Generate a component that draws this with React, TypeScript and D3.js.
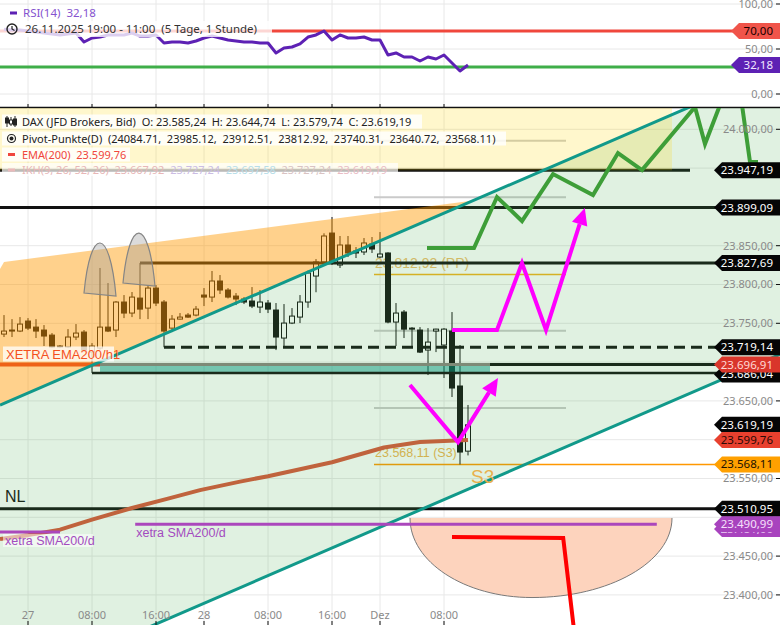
import React from 'react';
import * as d3 from 'd3';

const W = 780;
const H = 625;

// ---------- data ----------
const candleOpen = [23736.1, 23741.3, 23740.0, 23752.9, 23745.1, 23741.3, 23734.8, 23720.7, 23719.4, 23732.3, 23738.7, 23712.9, 23718.1, 23745.1, 23741.3, 23777.4, 23763.2, 23782.5, 23769.6, 23795.4, 23777.4, 23743.8, 23755.4, 23760.6, 23760.6, 23786.4, 23783.8, 23804.5, 23792.9, 23785.1, 23781.3, 23778.7, 23770.9, 23776.1, 23767.1, 23731.0, 23750.3, 23758.0, 23777.4, 23810.9, 23829.0, 23866.3, 23825.1, 23850.9, 23843.2, 23841.9, 23852.2, 23835.4, 23840.6, 23751.6, 23764.5, 23743.8, 23741.3, 23715.5, 23740.0, 23722.0, 23740.0, 23669.2, 23585.24];
const candleHigh = [23760.6, 23755.4, 23758.0, 23756.7, 23755.4, 23747.7, 23737.4, 23722.0, 23742.5, 23749.0, 23741.3, 23724.5, 23821.3, 23801.9, 23778.7, 23786.4, 23790.3, 23827.69, 23799.3, 23799.3, 23780.0, 23760.6, 23763.2, 23763.2, 23772.2, 23795.4, 23817.4, 23812.2, 23795.4, 23789.0, 23783.8, 23796.7, 23792.9, 23780.0, 23776.1, 23774.8, 23769.6, 23786.4, 23818.0, 23832.8, 23866.0, 23887.0, 23862.5, 23862.5, 23848.3, 23859.9, 23861.2, 23867.6, 23841.5, 23776.1, 23767.1, 23745.1, 23745.1, 23743.8, 23743.0, 23743.8, 23764.5, 23722.0, 23644.74];
const candleLow = [23732.3, 23732.3, 23738.7, 23741.3, 23731.0, 23720.7, 23718.1, 23718.1, 23718.1, 23728.4, 23712.9, 23686.04, 23716.0, 23738.7, 23732.3, 23756.7, 23758.0, 23755.4, 23755.4, 23772.2, 23719.14, 23738.7, 23755.0, 23757.0, 23759.0, 23772.2, 23777.4, 23787.7, 23782.0, 23773.5, 23774.8, 23769.6, 23763.2, 23763.2, 23715.5, 23719.4, 23749.0, 23750.3, 23770.0, 23790.0, 23826.0, 23825.1, 23821.3, 23835.4, 23834.1, 23838.0, 23840.6, 23834.1, 23750.0, 23720.7, 23731.0, 23719.4, 23711.7, 23683.3, 23712.9, 23679.5, 23655.0, 23568.11, 23579.74];
const candleClose = [23740.0, 23740.0, 23749.0, 23743.8, 23740.0, 23733.6, 23719.4, 23719.4, 23732.3, 23737.4, 23715.5, 23720.7, 23745.1, 23740.0, 23777.4, 23763.2, 23783.8, 23768.3, 23795.4, 23776.1, 23740.0, 23755.4, 23758.0, 23758.0, 23768.3, 23783.8, 23804.5, 23792.9, 23783.8, 23781.3, 23777.4, 23772.2, 23777.4, 23768.3, 23732.3, 23750.3, 23759.3, 23777.4, 23814.8, 23829.0, 23862.5, 23827.7, 23850.9, 23840.6, 23840.6, 23853.5, 23845.7, 23839.3, 23751.6, 23763.2, 23742.5, 23743.0, 23712.9, 23725.8, 23742.5, 23742.5, 23666.6, 23584.1, 23619.19];

const rsiValues = [72, 71, 71, 70, 69, 67.8, 66.7, 65.6, 66.7, 67.8, 57.8, 62.2, 63.3, 65.6, 65.6, 65.6, 67.8, 64.4, 64.4, 65.6, 56.7, 57.8, 57.8, 56.7, 58.9, 62.2, 64.4, 62.2, 60, 58.9, 57.8, 57.8, 56.7, 56.7, 45.6, 51.1, 52.2, 55.6, 63.3, 65.6, 70, 60, 65.6, 62.2, 62.2, 63.3, 60, 60, 43.3, 45.6, 41.1, 41.1, 36.7, 41.1, 38.9, 43.3, 34.4, 25.6, 32.18];

const xTickIndex = [3, 11, 19, 25, 33, 41, 47, 55];
const xTickLabels = ['27', '08:00', '16:00', '28', '08:00', '16:00', 'Dez', '08:00'];

const priceTicks = [24000, 23950, 23900, 23850, 23800, 23750, 23700, 23650, 23600, 23550, 23500, 23450, 23400];
const rsiTicks = [100, 50, 0];
const rsiUpper = 70;
const rsiLower = 30;

const emaIndex = [-0.5, 3, 7, 11, 16, 20.5, 24.5, 29.5, 33, 41, 47.5, 52, 58];
const emaValue = [23472, 23477, 23484, 23497, 23512, 23524, 23535, 23546, 23553, 23571, 23590, 23597, 23599.76];

const pivotNames = ['R3', 'R2', 'R1', 'PP', 'S1', 'S2', 'S3'];
const pivotValues = [24084.71, 23985.12, 23912.51, 23812.92, 23740.31, 23640.72, 23568.11];

const levelTop = 23947.19;
const level1 = 23899.09;
const level2 = 23827.69;
const levelDash = 23719.14;
const levelEmaH1 = 23696.91;
const levelZoneLow = 23686.04;
const levelNL = 23510.95;
const smaD1 = 23490.99;
const smaD2 = 23481.0;

const channelIdx = [-0.5, 97];
const channelUpperVal = [23644.7, 24079.0];
const channelLowerVal = [23275.6, 23709.9];

const wedgeIdx = [-0.5, 0, 58.7, -0.5];
const wedgeVal = [23820, 23829, 23908.4, 23644.7];

const archIdx = [[10, 12, 14], [14.875, 16.875, 18.875]];
const archVal = [[23789.0, 23853.5, 23785.1], [23801.9, 23866.3, 23798.0]];

const greenIdx = [52.875, 58.75, 61.625, 64.75, 68.625, 73.625, 76.75, 79.75, 86.375, 87.625, 89.5, 90.875, 92.25, 93.25, 94.25];
const greenVal = [23847.0, 23847.0, 23912.7, 23881.8, 23942.3, 23915.3, 23969.4, 23947.5, 24028.7, 23981.0, 24031.3, 24063.5, 24031.3, 23957.9, 23957.9];

const magentaUpIdx = [56, 61.625, 64.75, 67.75, 72.6];
const magentaUpVal = [23741.4, 23741.4, 23827.7, 23741.4, 23898.6];
const magentaVIdx = [50.75, 56.75, 61.75];
const magentaVVal = [23670.5, 23597.0, 23679.5];

const redIdx = [56, 69.9, 71.4];
const redVal = [23474.6, 23473.3, 23342];

// bowl: left edge, bottom, right edge (index) and top / bottom price
const bowlIdx = [50.75, 66, 83.5];
const bowlVal = [23499.1, 23396.6];

const ohlcLast = { o: 23585.24, h: 23644.74, l: 23579.74, c: 23619.19 };
const emaLast = 23599.76;
const rsiLast = 32.18;
const ikhValues = ['23.667,92', '23.727,24', '23.697,58', '23.727,24', '23.619,19'];

// ---------- helpers ----------
const de = d3.formatLocale({ decimal: ',', thousands: '.', grouping: [3], currency: ['', ''] });
const fmt = de.format(',.2f');

function arrowHead(p0: [number, number], p1: [number, number], len = 17, half = 8) {
  const dx = p1[0] - p0[0];
  const dy = p1[1] - p0[1];
  const L = Math.hypot(dx, dy);
  const ux = dx / L;
  const uy = dy / L;
  const bx = p1[0] - ux * len;
  const by = p1[1] - uy * len;
  return {
    base: [bx, by] as [number, number],
    path: `M${p1[0]},${p1[1]}L${bx - uy * half},${by + ux * half}L${bx + uy * half},${by - ux * half}Z`,
  };
}

function labelPath(tipX: number, cy: number, h: number) {
  return `M${tipX},${cy}L${tipX + 8},${cy - h / 2}L${W},${cy - h / 2}L${W},${cy + h / 2}L${tipX + 8},${cy + h / 2}Z`;
}

const SANS = '"Noto Sans", "DejaVu Sans", sans-serif';
const ARIAL = '"Liberation Sans", Arial, sans-serif';

export default function App() {
  const x = d3.scaleLinear().domain([0, 58]).range([4, 468]);
  const y = d3.scaleLinear().domain([23400, 24000]).range([594.9, 129.3]);
  const yR = d3.scaleLinear().domain([0, 100]).range([94, 4]);

  const pline = d3.line<[number, number]>().x((d) => x(d[0])).y((d) => y(d[1]));
  const pxLine = d3.line<[number, number]>();
  const rsiLine = d3.line<number>().x((_, i) => x(i)).y((d) => yR(d));

  const upper = channelIdx.map((v, i) => [x(v), y(channelUpperVal[i])] as [number, number]);
  const lower = channelIdx.map((v, i) => [x(v), y(channelLowerVal[i])] as [number, number]);
  const channelPath = `M${upper[0][0]},${upper[0][1]}L${upper[1][0]},${upper[1][1]}L${lower[1][0]},${lower[1][1]}L${lower[0][0]},${lower[0][1]}Z`;

  const wedge = wedgeIdx.map((v, i) => [v, wedgeVal[i]] as [number, number]);
  const ema = emaIndex.map((v, i) => [v, emaValue[i]] as [number, number]);
  const green = greenIdx.map((v, i) => [v, greenVal[i]] as [number, number]);

  const magUpPx = magentaUpIdx.map((v, i) => [x(v), y(magentaUpVal[i])] as [number, number]);
  const magUpHead = arrowHead(magUpPx[magUpPx.length - 2], magUpPx[magUpPx.length - 1]);
  const magUpLine = [...magUpPx.slice(0, -1), magUpHead.base];
  const magVPx = magentaVIdx.map((v, i) => [x(v), y(magentaVVal[i])] as [number, number]);
  const magVHead = arrowHead(magVPx[magVPx.length - 2], magVPx[magVPx.length - 1]);
  const magVLine = [...magVPx.slice(0, -1), magVHead.base];

  const red = redIdx.map((v, i) => [v, redVal[i]] as [number, number]);

  const bxL = x(bowlIdx[0]);
  const bxM = x(bowlIdx[1]);
  const bxR = x(bowlIdx[2]);
  const byT = y(bowlVal[0]);
  const byB = y(bowlVal[1]);
  const kk = 0.5523;
  const ry = byB - byT;
  const bowlEdge = `M${bxL},${byT}C${bxL},${byT + kk * ry} ${bxM - kk * (bxM - bxL)},${byB} ${bxM},${byB}C${bxM + kk * (bxR - bxM)},${byB} ${bxR},${byT + kk * ry} ${bxR},${byT}`;
  const bowlFill = bowlEdge + 'Z';

  const arches = archIdx.map((ids, k) => {
    const [xl, , xr] = ids.map((v) => x(v));
    const [yl, ya, yr] = archVal[k].map((v) => y(v));
    const w = xr - xl;
    const yb = (yl + yr) / 2;
    const yc = (ya - 0.25 * yb) / 0.75;
    return `M${xl},${yl}C${xl + w * 0.2},${yc} ${xr - w * 0.2},${yc} ${xr},${yr}Z`;
  });

  const pivotStart = 46.25;
  const pivotEnd = 70.25;

  const priceLabels = [
    { v: levelTop, bg: '#050505', fg: '#ffffff', dy: 0 },
    { v: level1, bg: '#050505', fg: '#ffffff', dy: 0 },
    { v: level2, bg: '#050505', fg: '#ffffff', dy: 0 },
    { v: levelDash, bg: '#050505', fg: '#ffffff', dy: 0 },
    { v: levelZoneLow, bg: '#050505', fg: '#ffffff', dy: 1.5 },
    { v: levelEmaH1, bg: '#d9362b', fg: '#ffd9d4', dy: 0 },
    { v: ohlcLast.c, bg: '#050505', fg: '#ffffff', dy: 0 },
    { v: emaLast, bg: '#e8402e', fg: '#2b0905', dy: 0 },
    { v: pivotValues[6], bg: '#ffa000', fg: '#1c1200', dy: 0 },
    { v: levelNL, bg: '#050505', fg: '#ffffff', dy: 0 },
    { v: smaD2, bg: '#a843be', fg: '#f6e0fb', dy: -3 },
    { v: smaD1, bg: '#a843be', fg: '#f6e0fb', dy: 0 },
  ];

  const candles = candleOpen.map((o, i) => ({ i, o, h: candleHigh[i], l: candleLow[i], c: candleClose[i] }));

  return (
    <svg width={W} height={H} style={{ position: 'absolute', left: 0, top: 0, background: '#fff' }} fontFamily={SANS}>
      <defs>
        <clipPath id="rsiClip"><rect x={0} y={0} width={W} height={107} /></clipPath>
        <clipPath id="mainClip"><rect x={0} y={108} width={W} height={H - 108} /></clipPath>
      </defs>

      {/* ---------- RSI panel ---------- */}
      <g clipPath="url(#rsiClip)">
        {rsiTicks.map((t) => (
          <line key={t} x1={0} x2={W} y1={yR(t)} y2={yR(t)} stroke="#e8e8e8" strokeWidth={1} />
        ))}
        {xTickIndex.map((t, k) => (
          <line key={k} x1={x(t)} x2={x(t)} y1={0} y2={107} stroke="#e8e8e8" strokeWidth={1} />
        ))}
        <line x1={0} x2={W} y1={yR(rsiUpper)} y2={yR(rsiUpper)} stroke="#f0473c" strokeWidth={3} />
        <line x1={0} x2={W} y1={yR(rsiLower)} y2={yR(rsiLower)} stroke="#3fae49" strokeWidth={3} />
        <path d={rsiLine(rsiValues) || ''} fill="none" stroke="#5d21b4" strokeWidth={3} strokeLinejoin="round" />
        <rect x={0} y={21} width={272} height={16} fill="#ffffff" fillOpacity={0.78} />
        <rect x={10} y={11.5} width={7} height={3} fill="#5d21b4" />
        <text x={23} y={17} fontSize={11.5} fill="#8553cf" style={{ whiteSpace: 'pre' }}>{`RSI(14)  ${rsiLast.toFixed(2).replace('.', ',')}`}</text>
        <circle cx={12} cy={29} r={5} fill="none" stroke="#222" strokeWidth={1.4} />
        <path d="M12,26 L12,29 L14.5,30.5" fill="none" stroke="#222" strokeWidth={1.2} />
        <text x={25} y={33} fontSize={11.5} fill="#333" style={{ whiteSpace: 'pre' }}>{'26.11.2025 19:00 - 11:00  (5 Tage, 1 Stunde)'}</text>
      </g>

      <line x1={0} x2={W} y1={107.5} y2={107.5} stroke="#111" strokeWidth={1.5} />
      {xTickIndex.map((t, k) => (
        <line key={k} x1={x(t)} x2={x(t)} y1={104} y2={107} stroke="#111" strokeWidth={1} />
      ))}

      {/* ---------- main panel ---------- */}
      <g clipPath="url(#mainClip)">
        {priceTicks.map((t) => (
          <line key={t} x1={0} x2={W} y1={y(t)} y2={y(t)} stroke="#e8e8e8" strokeWidth={1} />
        ))}
        {xTickIndex.map((t, k) => (
          <line key={k} x1={x(t)} x2={x(t)} y1={108} y2={H} stroke="#e8e8e8" strokeWidth={1} />
        ))}

        {pivotValues.map((v, k) => {
          const name = pivotNames[k];
          if (name === 'S3') {
            return <line key={name} x1={x(pivotStart)} x2={W} y1={y(v)} y2={y(v)} stroke="#ff9800" strokeWidth={1.5} />;
          }
          if (name === 'PP') {
            return <line key={name} x1={x(pivotStart)} x2={x(pivotEnd)} y1={y(v)} y2={y(v)} stroke="#f2b31c" strokeWidth={1.5} />;
          }
          return <line key={name} x1={x(pivotStart)} x2={x(pivotEnd)} y1={y(v)} y2={y(v)} stroke="#cacaca" strokeWidth={2} />;
        })}
        <text x={x(pivotStart) + 1} y={y(pivotValues[3]) - 6} fontFamily={ARIAL} fontSize={14} fill="#eebd6c">{`${fmt(pivotValues[3])} (PP)`}</text>
        <text x={x(pivotStart) + 1} y={y(pivotValues[6]) - 7} fontFamily={ARIAL} fontSize={12.5} fill="#eeb452">{`${fmt(pivotValues[6])} (S3)`}</text>

        {candles.map((d) => {
          const up = d.c >= d.o;
          const cx = x(d.i);
          const top = y(Math.max(d.o, d.c));
          const bot = y(Math.min(d.o, d.c));
          return (
            <g key={d.i}>
              <line x1={cx} x2={cx} y1={y(d.h)} y2={y(d.l)} stroke="#111" strokeWidth={1} />
              <rect x={cx - 2.5} y={top} width={5} height={Math.max(1, bot - top)} fill={up ? '#fff' : '#111'} stroke="#111" strokeWidth={1} />
            </g>
          );
        })}

        <line x1={0} x2={x(85.75)} y1={y(levelTop)} y2={y(levelTop)} stroke="#111" strokeWidth={3} />
        <line x1={0} x2={W} y1={y(level1)} y2={y(level1)} stroke="#111" strokeWidth={3} />
        <line x1={x(17)} x2={W} y1={y(level2)} y2={y(level2)} stroke="#111" strokeWidth={3} />
        <line x1={x(20)} x2={W} y1={y(levelDash)} y2={y(levelDash)} stroke="#111" strokeWidth={3} strokeDasharray="11,6" />
        <rect x={x(12)} y={y(levelEmaH1)} width={x(60.75) - x(12)} height={y(levelZoneLow) - y(levelEmaH1)} fill="#009688" fillOpacity={0.5} />
        <line x1={x(11)} x2={W} y1={y(levelZoneLow)} y2={y(levelZoneLow)} stroke="#111" strokeWidth={2.5} />
        <line x1={x(12)} x2={x(60.75)} y1={y(levelEmaH1)} y2={y(levelEmaH1)} stroke="#8a8480" strokeWidth={3} />
        <line x1={x(60.75)} x2={W} y1={y(levelEmaH1)} y2={y(levelEmaH1)} stroke="#111" strokeWidth={3} />
        <line x1={0} x2={x(12)} y1={y(levelEmaH1)} y2={y(levelEmaH1)} stroke="#e0352b" strokeWidth={4} />
        <line x1={0} x2={W} y1={y(levelNL)} y2={y(levelNL)} stroke="#111" strokeWidth={3} />

        <path d={pline(ema) || ''} fill="none" stroke="#d9553a" strokeWidth={4} strokeLinejoin="round" />

        <path d={pline(wedge) + 'Z'} fill="#ff9800" fillOpacity={0.45} />
        <path d={channelPath} fill="#46aa4b" fillOpacity={0.17} />
        <rect x={0} y={108} width={x(83.5)} height={y(levelTop) - 108} fill="#ffd700" fillOpacity={0.2} />

        {arches.map((d, k) => (
          <path key={k} d={d} fill="#a0a0a0" fillOpacity={0.38} stroke="#858585" strokeWidth={1.2} />
        ))}

        <path d={pxLine(upper) || ''} stroke="#11998a" strokeWidth={3} fill="none" />
        <path d={pxLine(lower) || ''} stroke="#11998a" strokeWidth={3} fill="none" />

        <path d={bowlFill} fill="#fdd3bd" />
        <path d={bowlEdge} fill="none" stroke="#7a7a7a" strokeWidth={1} />

        <line x1={x(16.4)} x2={x(81.6)} y1={y(smaD1)} y2={y(smaD1)} stroke="#ab47bc" strokeWidth={3} />
        <line x1={0} x2={x(7)} y1={y(smaD2)} y2={y(smaD2)} stroke="#ab47bc" strokeWidth={3} />

        <path d={pline(green) || ''} fill="none" stroke="#3e9e38" strokeWidth={4} strokeLinejoin="miter" />
        <path d={pxLine(magUpLine) || ''} fill="none" stroke="#ff00ff" strokeWidth={4} />
        <path d={magUpHead.path} fill="#ff00ff" />
        <path d={pxLine(magVLine) || ''} fill="none" stroke="#ff00ff" strokeWidth={4} />
        <path d={magVHead.path} fill="#ff00ff" />
        <path d={pline(red) || ''} fill="none" stroke="#ff0000" strokeWidth={4} />

        <rect x={3} y={y(levelEmaH1) - 18} width={111} height={15} fill="#ffffff" fillOpacity={0.75} />
        <text x={6} y={y(levelEmaH1) - 5.5} fontFamily={ARIAL} fontSize={13} fill="#f4511e">XETRA EMA200/h1</text>
        <text x={5} y={y(levelNL) - 7} fontFamily={ARIAL} fontSize={16} fill="#1b2b1b">NL</text>
        <text x={x(16.4) + 1} y={y(smaD1) + 13} fontFamily={ARIAL} fontSize={12.5} fill="#a34bbf">xetra SMA200/d</text>
        <rect x={3} y={y(smaD2) + 2} width={90} height={13} fill="#ffffff" fillOpacity={0.55} />
        <text x={5} y={y(smaD2) + 12.5} fontFamily={ARIAL} fontSize={12.5} fill="#a34bbf">xetra SMA200/d</text>
        <text x={471} y={y(pivotValues[6]) + 19} fontFamily={ARIAL} fontSize={19} fill="#e9b04c">S3</text>

        <rect x={2} y={114.5} width={420} height={14} fill="#ffffff" fillOpacity={0.82} />
        <rect x={2} y={131.5} width={504} height={14} fill="#ffffff" fillOpacity={0.82} />
        <rect x={2} y={147.5} width={128} height={14} fill="#ffffff" fillOpacity={0.82} />
        <rect x={2} y={163} width={396} height={13} fill="#ffffff" fillOpacity={0.7} />
        <g stroke="#222" strokeWidth={1}>
          <line x1={7} x2={7} y1={116} y2={127} />
          <rect x={5.5} y={118} width={3} height={5} fill="#222" />
          <line x1={11} x2={11} y1={117} y2={126} />
          <rect x={9.5} y={120} width={3} height={4} fill="#fff" />
          <line x1={15} x2={15} y1={116} y2={127} />
          <rect x={13.5} y={119} width={3} height={6} fill="#222" />
        </g>
        <text x={22} y={125.5} fontSize={11} fill="#222" style={{ whiteSpace: 'pre' }}>
          {`DAX (JFD Brokers, Bid)  O: ${fmt(ohlcLast.o)}  H: ${fmt(ohlcLast.h)}  L: ${fmt(ohlcLast.l)}  C: ${fmt(ohlcLast.c)}`}
        </text>
        <circle cx={11.5} cy={138.5} r={4} fill="none" stroke="#222" strokeWidth={1.2} />
        <circle cx={11.5} cy={138.5} r={2} fill="#222" />
        <text x={22} y={142.5} fontSize={11} fill="#222" style={{ whiteSpace: 'pre' }}>
          {`Pivot-Punkte(D)  (${pivotValues.map((v) => v.toFixed(2)).join(',  ')})`}
        </text>
        <rect x={8} y={153} width={7} height={3} fill="#f0463c" />
        <text x={22} y={158.5} fontSize={11} fill="#f0463c" style={{ whiteSpace: 'pre' }}>{`EMA(200)  ${fmt(emaLast)}`}</text>
        <rect x={8} y={168.5} width={7} height={3} fill="#e9b9b9" />
        <text x={22} y={174} fontSize={11} style={{ whiteSpace: 'pre' }}>
          <tspan fill="#e7b7b7">{`IKH(9, 26, 52, 26)  ${ikhValues[0]}  `}</tspan>
          <tspan fill="#cbbde3">{`${ikhValues[1]}  `}</tspan>
          <tspan fill="#b7dde8">{`${ikhValues[2]}  `}</tspan>
          <tspan fill="#d9c3c3">{`${ikhValues[3]}  `}</tspan>
          <tspan fill="#e9bcc4">{ikhValues[4]}</tspan>
        </text>
      </g>

      {/* ---------- axes ---------- */}
      {priceTicks.map((t) => (
        <g key={t}>
          <text x={773} y={y(t)} dy="0.35em" textAnchor="end" fontSize={11} fill="#8a8a8a">{fmt(t)}</text>
          <line x1={776} x2={W} y1={y(t)} y2={y(t)} stroke="#111" strokeWidth={1} />
        </g>
      ))}
      {rsiTicks.map((t) => (
        <g key={t}>
          <text x={773} y={yR(t)} dy="0.35em" textAnchor="end" fontSize={11} fill="#8a8a8a">{fmt(t)}</text>
          <line x1={776} x2={W} y1={yR(t)} y2={yR(t)} stroke="#111" strokeWidth={1} />
        </g>
      ))}
      {xTickIndex.map((t, k) => (
        <g key={k}>
          <text x={x(t)} y={619} textAnchor="middle" fontSize={11} fill="#8a8a8a">{xTickLabels[k]}</text>
          <line x1={x(t)} x2={x(t)} y1={621} y2={H} stroke="#111" strokeWidth={1} />
        </g>
      ))}

      <path d={labelPath(731, yR(rsiUpper), 16)} fill="#f0544a" />
      <text x={773} y={yR(rsiUpper)} dy="0.35em" textAnchor="end" fontSize={11.5} fill="#1a0000">{fmt(rsiUpper)}</text>
      <path d={labelPath(731, yR(rsiLast), 16)} fill="#5d21b4" />
      <text x={773} y={yR(rsiLast)} dy="0.35em" textAnchor="end" fontSize={11.5} fill="#f0e6ff">{fmt(rsiLast)}</text>

      {priceLabels.map((p, k) => {
        const cy = y(p.v) + p.dy;
        return (
          <g key={k}>
            <path d={labelPath(714, cy, 16)} fill={p.bg} />
            <text x={773} y={cy} dy="0.35em" textAnchor="end" fontSize={11.5} fill={p.fg}>{fmt(p.v)}</text>
          </g>
        );
      })}
    </svg>
  );
}
